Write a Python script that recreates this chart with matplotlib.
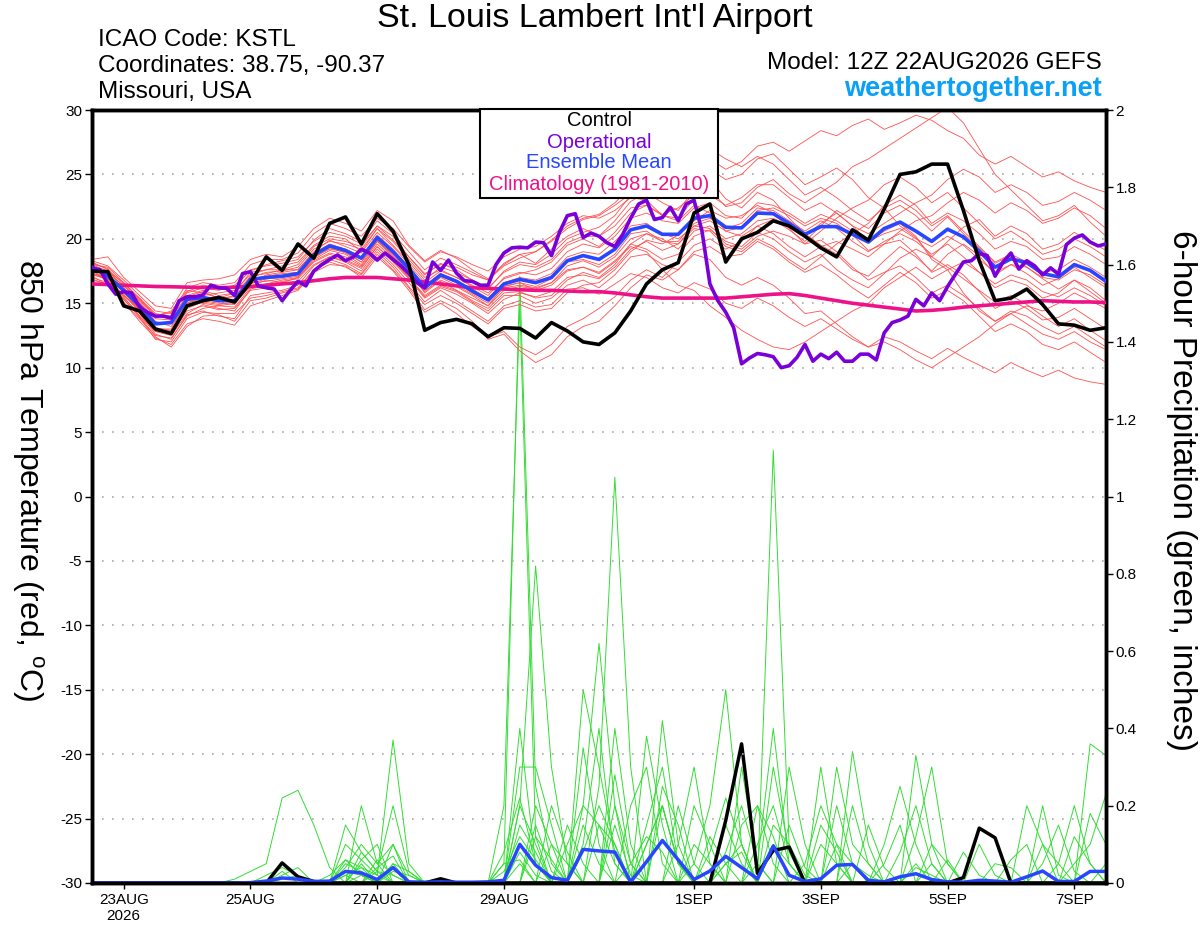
import numpy as np
import matplotlib
matplotlib.use('Agg')
import matplotlib.pyplot as plt
from matplotlib.patches import Rectangle

plt.rcParams['font.family'] = ['Liberation Sans', 'DejaVu Sans']
plt.rcParams['mathtext.fontset'] = 'custom'
plt.rcParams['mathtext.rm'] = 'Liberation Sans'

# ---------------- data ----------------
hours6 = np.arange(0, 385, 6)     # forecast hours, 6-hourly (ensemble)
hours3 = np.arange(0, 385, 3)     # forecast hours, 3-hourly (operational)

tick_days = [0.5, 2.5, 4.5, 6.5, 9.5, 11.5, 13.5, 15.5]
tick_labels = ['23AUG\n2026', '25AUG', '27AUG', '29AUG', '1SEP', '3SEP', '5SEP', '7SEP']

control = [17.5,17.45,14.8,14.4,13.0,12.65,14.8,15.2,15.45,15.1,16.6,
           18.6,17.55,19.6,18.5,21.2,21.7,19.6,21.95,20.6,18.0,
           12.9,13.5,13.75,13.4,12.4,13.1,13.05,12.3,13.5,12.85,
           12.0,11.8,12.7,14.4,16.5,17.6,18.15,22.0,22.7,18.2,
           20.0,20.5,21.4,21.0,20.2,19.3,18.6,20.7,19.9,22.3,
           25.0,25.2,25.8,25.8,22.2,18.3,15.2,15.4,16.1,14.9,
           13.4,13.3,12.9,13.1]

ens_mean = [17.8,17.1,16.0,14.8,13.4,13.5,15.3,15.45,15.2,15.2,16.85,
            17.0,17.1,17.3,18.75,19.45,19.1,18.5,20.1,19.0,17.7,
            16.2,17.2,16.7,15.95,15.25,16.5,16.85,16.6,17.0,18.3,
            18.7,18.4,19.2,20.7,21.0,20.35,20.35,21.6,21.8,20.9,
            20.85,22.0,21.95,21.2,20.35,20.95,20.95,20.35,19.75,20.8,
            21.3,20.6,19.8,20.75,20.15,19.05,17.8,18.45,18.15,17.3,
            17.05,18.0,17.55,16.7]

climatology = [16.5,16.45,16.4,16.35,16.3,16.28,16.25,16.22,16.2,16.25,16.3,
               16.4,16.5,16.6,16.75,16.9,17.0,17.0,17.0,16.9,16.8,
               16.65,16.5,16.35,16.2,16.15,16.1,16.05,16.0,16.0,15.95,
               15.9,15.9,15.8,15.65,15.5,15.4,15.4,15.4,15.4,15.4,
               15.5,15.6,15.7,15.75,15.6,15.4,15.2,15.0,14.85,14.7,
               14.55,14.4,14.45,14.55,14.7,14.8,14.9,15.0,15.1,15.2,
               15.15,15.1,15.1,15.05]

operational = [17.75,17.6,16.5,15.7,15.9,15.8,14.7,14.3,14.0,14.0,13.85,
               15.2,15.5,15.5,15.65,16.4,16.2,16.15,15.6,17.3,17.45,16.35,
               16.2,16.1,15.2,16.0,16.7,16.35,17.5,18.0,18.4,18.75,18.3,
               18.6,19.2,18.9,18.35,18.9,18.4,17.9,17.3,16.6,16.2,18.2,
               17.55,18.35,17.35,16.75,16.7,16.4,16.4,18.0,18.9,19.3,19.35,
               19.3,19.75,19.7,18.7,20.5,21.8,21.95,20.1,20.45,20.2,19.7,
               19.4,20.35,21.6,22.7,23.0,21.5,21.65,22.45,21.4,22.7,23.0,
               20.6,16.5,15.2,14.3,13.1,10.3,10.75,11.1,11.0,10.85,10.0,
               10.15,10.8,11.8,10.5,11.05,10.7,11.2,10.5,10.5,11.05,11.05,
               10.6,12.7,13.5,13.7,14.0,15.3,14.8,15.8,15.2,16.3,17.25,
               18.2,18.3,18.85,18.7,17.1,18.2,18.9,17.65,18.3,17.9,17.2,
               17.75,17.25,19.55,20.05,20.3,19.75,19.45,19.6]

m01 = [18.2,17.6,16.5,15.2,14.0,14.3,15.8,16.2,16.0,16.4,17.5, 18.0,18.3,18.6,19.8,20.5,20.2,19.6,21.0,20.2,18.6,
       17.3,18.0,17.8,17.2,16.8,17.9,18.5,19.0,19.8,20.8, 21.5,21.8,22.6,23.5,24.3,24.0,24.8,25.5,26.2,25.4,
       26.0,27.2,27.5,26.8,27.6,28.4,28.0,28.8,29.3,28.5, 29.0,29.6,29.2,28.4,27.8,26.5,25.8,26.4,25.6,24.8, 25.2,24.5,24.0,23.6]
m02 = [17.0,16.6,15.4,14.2,12.6,12.2,14.1,14.4,14.0,13.8,15.6, 15.8,16.0,16.4,17.9,18.6,18.2,17.5,19.2,18.0,16.6,
       15.1,16.0,15.2,14.4,13.6,14.8,15.2,14.7,14.9,16.1, 16.2,15.7,16.5,17.3,17.0,16.2,15.8,16.6,16.1,15.0,
       14.6,15.4,14.8,13.9,13.2,13.8,13.0,12.2,11.6,12.4, 12.0,11.3,10.7,11.5,10.8,10.2,9.6,10.4,9.8,9.3, 9.8,9.2,8.9,8.7]
m03 = [18.4,18.6,17.0,15.9,14.8,14.6,16.6,16.8,16.9,17.2,18.4, 18.8,18.6,19.4,20.8,21.6,21.2,20.6,22.2,21.4,19.5,
       18.3,19.1,18.5,17.6,16.9,18.0,18.8,18.1,19.2,20.2, 20.8,20.2,21.4,22.9,23.6,22.8,22.2,23.8,24.6,23.1,
       22.4,23.6,23.0,21.6,20.4,19.5,18.8,17.6,17.1,18.3, 19.4,18.6,17.5,18.8,19.6,18.7,17.2,18.0,17.3,16.4, 16.9,17.8,17.0,16.2]
m04 = [17.4,16.8,15.1,13.6,12.3,11.8,13.4,13.8,13.6,13.3,14.8, 15.2,15.6,16.0,17.4,18.0,17.9,17.0,18.6,17.5,16.0,
       14.3,15.0,14.2,13.2,12.4,12.8,11.6,11.0,11.8,13.2, 13.8,14.6,15.5,16.8,17.6,17.0,18.2,19.5,20.0,19.2,
       19.8,21.0,21.5,20.7,19.8,21.0,22.2,21.5,20.8,22.0, 22.6,21.8,20.6,21.7,20.4,19.3,18.1,18.7,17.8,16.9, 16.1,16.8,15.9,15.0]
m05 = [17.8,17.2,16.2,15.0,13.6,13.2,15.0,15.6,15.8,16.0,17.2, 17.6,17.9,18.2,19.5,20.2,20.0,19.0,20.8,19.5,18.2,
       16.8,17.8,17.4,16.8,16.1,17.5,18.2,18.0,18.8,20.0, 20.5,20.9,21.8,23.4,24.0,23.2,23.6,24.8,25.4,24.6,
       25.0,26.2,26.6,25.4,24.2,24.8,25.5,24.6,23.2,22.4, 21.0,20.1,18.6,17.8,16.9,16.0,15.1,15.6,14.9,14.0, 13.2,13.8,12.9,12.1]
m06 = [17.6,17.4,15.8,14.6,13.0,13.0,15.2,15.0,14.8,15.0,16.3, 16.8,16.6,17.0,18.4,19.1,18.8,18.0,19.8,18.6,17.2,
       16.0,16.7,16.0,15.4,14.8,16.0,16.3,16.1,16.6,17.6, 17.8,17.3,18.2,19.6,19.2,18.4,18.8,20.2,20.7,19.8,
       19.4,20.5,20.0,19.0,18.2,18.8,17.6,16.8,16.2,17.3, 18.5,19.2,18.6,19.8,20.9,21.5,20.2,21.0,20.4,19.2, 19.6,20.5,19.8,19.1]
m07 = [18.0,17.8,16.6,15.3,14.1,13.9,15.6,16.0,15.6,15.8,17.0, 17.4,17.5,17.8,19.2,19.8,19.6,19.2,20.8,19.8,18.4,
       17.0,17.6,17.0,16.4,15.8,16.9,17.3,17.6,18.2,19.5, 20.0,19.4,20.5,22.0,22.6,21.8,21.6,23.1,23.8,22.5,
       22.8,24.0,24.6,23.5,22.8,23.6,24.4,25.6,26.2,27.0, 27.8,28.6,29.4,30.2,29.0,27.0,25.0,23.8,22.6,21.4, 21.8,22.6,21.3,20.2]
m08 = [17.2,16.9,15.6,14.5,13.1,12.9,14.7,15.2,15.0,14.9,16.5, 16.9,17.0,17.2,18.6,19.2,19.0,18.2,19.8,18.8,17.5,
       15.8,16.8,16.3,15.6,14.8,16.3,16.6,16.0,16.4,17.5, 17.8,17.4,18.3,19.4,19.0,17.6,16.4,16.0,14.8,13.9,
       12.9,12.2,11.6,11.4,12.0,12.8,13.6,14.4,15.0,16.2, 17.0,17.8,16.9,17.6,18.2,17.4,16.5,17.2,16.8,15.9, 15.5,16.2,15.6,14.8]
m09 = [17.9,17.3,16.4,15.1,13.8,13.7,15.5,15.9,15.4,15.5,17.1, 17.3,17.6,17.6,19.0,19.9,19.4,18.9,20.5,19.4,18.0,
       16.6,17.5,17.0,16.3,15.6,17.0,17.4,17.2,17.7,19.0, 19.6,19.3,20.2,21.6,22.0,21.4,21.2,22.4,22.8,21.8,
       21.6,22.8,22.6,22.0,21.2,21.9,21.4,20.6,19.8,20.4, 20.8,20.0,19.4,20.2,19.5,18.4,17.4,18.0,17.8,17.0, 16.8,17.6,17.2,16.4]
m10 = [17.5,16.9,15.9,14.4,12.9,12.6,14.4,14.8,14.5,14.6,16.0, 16.2,16.5,16.7,18.0,18.6,18.3,17.7,19.4,18.2,16.9,
       15.4,16.2,15.7,15.0,14.2,15.3,15.8,15.5,15.9,17.0, 17.2,16.9,17.8,19.2,19.8,19.1,19.6,21.0,21.4,20.6,
       20.9,22.2,22.4,21.8,21.0,21.6,21.2,20.3,19.1,19.6, 19.9,18.8,17.4,18.0,17.2,15.9,14.6,15.2,14.6,13.7, 13.9,14.6,13.8,13.0]
m11 = [18.3,17.9,16.8,15.6,14.4,14.2,16.2,16.6,16.4,16.6,18.0, 18.4,18.4,18.9,20.4,21.2,20.8,20.2,21.6,20.8,19.4,
       18.2,19.0,18.6,18.0,17.5,18.6,19.2,19.4,20.2,21.2, 21.8,21.6,22.2,23.2,23.0,21.8,21.4,22.6,22.0,20.6,
       20.2,21.0,20.4,19.4,18.6,19.4,19.8,19.2,18.6,19.6, 20.6,21.4,21.8,22.8,23.6,23.0,22.0,22.8,22.2,21.2, 21.6,22.4,21.8,20.8]
m12 = [17.1,16.4,15.3,13.9,12.2,12.0,13.8,14.3,14.2,14.2,15.4, 15.6,15.9,16.2,17.6,18.4,18.0,17.3,19.0,17.8,16.3,
       14.9,15.6,15.0,14.2,13.4,14.6,14.9,14.4,14.6,15.8, 16.4,16.6,17.6,19.0,19.9,19.6,20.3,21.4,22.2,21.6,
       21.8,22.6,22.0,20.8,19.6,19.9,19.0,17.8,16.8,17.4, 17.9,17.0,15.8,16.4,15.6,14.6,13.6,14.2,13.4,12.6, 12.2,12.8,12.0,11.4]
m13 = [17.7,17.5,16.3,15.4,14.2,14.0,15.9,16.4,16.2,16.2,17.6, 17.9,18.1,18.4,19.9,20.8,20.4,19.8,21.4,20.4,19.0,
       17.6,18.5,18.0,17.4,16.8,18.1,18.8,19.0,19.9,21.0, 21.6,21.9,22.8,24.0,24.8,24.4,25.2,26.4,27.0,26.2,
       25.6,26.4,25.8,24.6,23.4,24.0,23.2,22.2,21.4,22.4, 23.0,22.2,21.0,21.8,20.6,19.4,18.2,18.8,18.2,17.4, 17.6,18.4,17.8,17.0]
m14 = [16.8,16.5,15.0,13.8,12.5,12.3,14.0,14.6,14.8,14.7,16.2, 16.5,16.8,17.0,18.3,18.9,18.6,17.9,19.6,18.5,17.0,
       15.6,16.4,16.0,15.2,14.6,15.8,15.9,15.4,15.6,16.8, 17.4,17.0,18.0,19.6,20.4,20.0,19.2,20.6,21.0,20.0,
       20.4,21.4,21.6,21.0,20.2,21.2,22.0,21.0,19.8,20.6, 21.2,20.2,18.4,17.6,15.8,14.4,13.6,14.4,14.0,13.2, 12.6,13.2,12.4,11.6]
m15 = [18.1,17.7,16.0,14.9,13.5,13.4,15.4,15.3,15.1,15.3,16.9, 17.1,17.3,17.4,18.9,19.6,19.2,18.6,20.3,19.2,17.8,
       16.4,17.3,16.8,16.1,15.4,16.6,17.0,16.8,17.3,18.6, 19.0,18.8,19.8,21.0,21.2,20.4,20.0,21.0,20.8,19.6,
       19.2,20.2,20.6,20.2,19.6,20.6,21.6,22.4,23.0,24.2, 24.8,24.0,22.8,23.6,22.4,21.2,20.0,20.6,19.8,18.8, 19.2,20.0,19.4,18.6]
m16 = [17.3,17.0,15.5,14.0,12.8,12.5,14.2,14.9,14.6,14.4,16.1, 16.4,16.7,16.9,18.2,18.8,18.4,17.8,19.4,18.3,17.0,
       15.5,16.3,15.9,15.1,14.4,15.6,15.6,15.0,15.4,16.4, 16.8,16.2,17.2,18.6,18.8,18.0,17.6,18.8,18.4,17.0,
       16.4,17.0,16.4,15.4,14.2,14.4,13.4,12.4,11.6,12.0, 11.4,10.6,10.0,10.8,11.6,12.4,13.4,14.2,14.8,14.4, 15.0,15.8,15.2,14.6]
m17 = [18.0,17.5,16.6,15.4,14.0,14.4,16.0,15.8,15.4,15.8,17.4, 17.6,17.6,18.0,19.4,20.0,19.8,19.4,21.0,19.9,18.6,
       17.2,18.1,17.6,16.8,16.2,17.4,18.0,17.8,18.4,19.7, 20.2,20.2,21.0,22.4,22.6,21.9,22.4,23.4,23.4,22.6,
       23.2,24.2,24.2,23.2,22.2,22.8,22.0,21.0,20.4,21.2, 22.0,22.8,23.4,24.6,25.4,24.8,23.6,24.2,23.6,22.6, 22.9,23.6,23.0,22.2]
m18 = [17.6,16.7,15.7,14.3,12.8,12.9,14.6,15.1,14.9,15.1,16.6, 16.7,16.9,17.1,18.5,19.3,18.9,18.2,19.9,18.7,17.4,
       15.9,17.0,16.4,15.7,15.0,16.2,16.4,16.2,16.6,17.9, 18.3,17.8,18.6,20.0,20.4,19.8,19.8,21.2,21.6,20.8,
       21.2,22.4,22.2,21.4,20.6,21.4,20.8,19.8,19.0,19.8, 20.4,19.8,18.8,19.6,18.6,17.4,16.2,16.8,16.4,15.4, 15.8,16.8,16.2,15.2]
m19 = [16.9,16.4,15.6,14.6,13.4,13.6,15.0,15.4,15.3,15.6,16.6, 17.2,17.4,17.6,18.9,19.4,19.0,18.4,20.0,18.9,17.6,
       16.1,17.1,16.6,15.8,15.2,16.3,16.6,16.3,16.9,18.2, 18.4,18.0,18.8,20.4,20.6,19.8,19.6,20.8,20.6,19.4,
       19.0,20.0,19.4,18.4,17.6,18.6,19.6,20.4,21.2,22.6, 23.4,22.6,21.2,22.0,21.4,20.4,19.2,19.8,19.4,18.4, 18.6,19.4,18.8,18.0]
m20 = [17.3,16.8,15.3,14.0,12.4,11.6,13.2,14.0,14.1,13.6,15.2, 15.4,15.8,16.1,17.6,18.2,17.8,17.2,18.8,17.6,16.2,
       14.5,15.2,14.6,13.6,12.2,12.6,11.3,10.4,11.0,12.4, 13.2,13.6,14.8,16.2,17.2,16.8,17.6,19.0,19.4,18.6,
       18.8,19.8,19.2,18.2,17.4,18.0,17.2,16.2,15.4,16.4, 17.4,16.6,15.4,16.0,15.2,14.0,12.8,13.4,12.8,11.8, 11.4,12.0,11.2,10.4]
members = [m01, m02, m03, m04, m05, m06, m07, m08, m09, m10,
           m11, m12, m13, m14, m15, m16, m17, m18, m19, m20]

# 6-hour precipitation (inches)
control_pcp = [0,0,0,0,0,0,0,0,0,0,0, 0,0.052,0.016,0.004,0,0,0,0,0,0,
               0,0.011,0,0,0,0,0,0,0,0, 0,0,0,0,0,0,0,0,0,0.162,
               0.36,0.025,0.084,0.093,0,0,0,0,0,0, 0,0,0,0,0.014,0.142,0.117,0,0,0, 0,0,0,0]
mean_pcp = [0,0,0,0,0,0,0,0,0,0,0.001, 0.005,0.013,0.010,0.004,0.005,0.030,0.026,0.009,0.040,0.003,
            0.002,0.003,0.002,0.002,0.003,0.007,0.100,0.046,0.014,0.007,
            0.087,0.083,0.080,0.003,0.055,0.110,0.060,0.009,0.031,0.069,
            0.040,0.011,0.096,0.020,0.004,0.011,0.046,0.048,0.007,0.003,
            0.016,0.024,0.009,0.003,0.002,0.007,0.005,0.002,0.016,0.031, 0.004,0.004,0.030,0.030]

# member precipitation: {6-hour step index: inches}, zero elsewhere
g01 = {9:0.01,10:0.03,11:0.05,12:0.22,13:0.24,14:0.15,15:0.04,26:0.05,27:1.57,28:0.25,29:0.05,35:0.1,36:0.2,37:0.05,43:0.1,44:0.05,52:0.05}
g02 = {11:0.02,12:0.04,13:0.02,16:0.10,17:0.06,18:0.02,19:0.37,20:0.05,27:0.2,28:0.82,29:0.3,30:0.05,33:0.15,34:0.02,40:0.05,41:0.1}
g03 = {16:0.15,17:0.08,18:0.03,19:0.2,20:0.03,26:0.2,27:1.50,28:0.12,31:0.5,32:0.3,33:0.08,43:1.12,44:0.1,48:0.05,49:0.02}
g04 = {15:0.02,16:0.06,17:0.04,19:0.1,20:0.02,30:0.1,31:0.2,32:0.62,33:0.2,38:0.05,39:0.2,40:0.5,41:0.1,46:0.3,47:0.05}
g05 = {16:0.04,17:0.10,18:0.05,27:0.3,28:0.3,29:0.15,32:0.25,33:1.05,34:0.3,37:0.1,38:0.3,39:0.05,48:0.34,49:0.1}
g06 = {12:0.02,13:0.04,17:0.2,18:0.05,19:0.1,28:0.12,29:0.06,31:0.35,32:0.1,35:0.38,36:0.15,42:0.2,43:0.12,52:0.33,53:0.1,63:0.36,64:0.33}
g07 = {16:0.05,17:0.03,19:0.05,26:0.08,27:0.22,28:0.05,33:0.4,34:0.1,36:0.42,37:0.1,40:0.15,41:0.05,47:0.3,48:0.1,49:0.05,59:0.2,60:0.1}
g08 = {18:0.04,19:0.07,27:0.15,28:0.08,31:0.2,32:0.15,33:0.05,39:0.08,40:0.22,41:0.1,44:0.3,45:0.1,52:0.12,53:0.3,54:0.05,60:0.2,61:0.02}
g09 = {16:0.03,17:0.02,29:0.1,30:0.05,34:0.2,35:0.3,36:0.05,41:0.15,42:0.2,43:0.05,50:0.1,51:0.25,52:0.1,62:0.05,63:0.1,64:0.23}
g10 = {19:0.03,20:0.02,27:0.4,28:0.05,36:0.25,37:0.15,43:0.3,44:0.08,46:0.1,47:0.05,56:0.1,57:0.02}
g11 = {16:0.02,17:0.04,18:0.02,31:0.15,32:0.05,38:0.1,39:0.05,45:0.05,46:0.2,47:0.1,53:0.05,60:0.05,61:0.15,62:0.03}
g12 = {17:0.05,19:0.04,27:0.08,28:0.02,33:0.28,34:0.05,40:0.08,41:0.2,42:0.05,49:0.15,50:0.04,57:0.05,58:0.04}
g13 = {12:0.01,13:0.02,17:0.06,18:0.1,26:0.05,27:0.06,30:0.15,31:0.05,35:0.15,36:0.3,37:0.05,42:0.05,43:0.4,44:0.05}
g14 = {18:0.03,19:0.02,28:0.2,29:0.1,32:0.15,33:0.1,39:0.12,40:0.05,47:0.2,48:0.05,55:0.08,56:0.02,62:0.12,63:0.05}
g15 = {16:0.02,27:0.05,31:0.1,32:0.4,33:0.05,37:0.2,38:0.05,44:0.15,45:0.04,51:0.08,52:0.2,53:0.05,64:0.05}
g16 = {17:0.02,26:0.03,27:0.12,28:0.06,34:0.05,35:0.12,36:0.08,41:0.3,42:0.05,48:0.2,49:0.05,58:0.06,59:0.1}
g17 = {19:0.05,20:0.03,29:0.2,30:0.08,36:0.2,37:0.05,43:0.15,44:0.1,45:0.02,50:0.05,51:0.15,61:0.05,62:0.2,63:0.05}
g18 = {16:0.06,17:0.02,27:0.2,28:0.1,33:0.2,34:0.05,38:0.2,39:0.1,46:0.15,47:0.08,54:0.06,63:0.18,64:0.1}
g19 = {12:0.03,18:0.06,19:0.02,31:0.08,32:0.2,33:0.1,40:0.05,41:0.08,47:0.1,48:0.05,53:0.1,54:0.05}
g20 = {17:0.08,18:0.03,28:0.15,29:0.03,35:0.1,36:0.2,37:0.05,42:0.1,43:0.2,44:0.05,52:0.04,53:0.02,60:0.1,61:0.05}
member_pcp = [g01, g02, g03, g04, g05, g06, g07, g08, g09, g10,
              g11, g12, g13, g14, g15, g16, g17, g18, g19, g20]

temp_ticks = list(range(-30, 31, 5))
pcp_ticks = [0, 0.2, 0.4, 0.6, 0.8, 1, 1.2, 1.4, 1.6, 1.8, 2]
pcp_tick_labels = ['0', '0.2', '0.4', '0.6', '0.8', '1', '1.2', '1.4', '1.6', '1.8', '2']

# ---------------- colours ----------------
C_RED = '#FF5050'
C_GREEN = '#33DD33'
C_CTRL = '#000000'
C_OP = '#7A00DA'
C_MEAN = '#2846FF'
C_CLIM = '#EE1289'
C_WEB = '#0AA0F5'

# ---------------- figure ----------------
W, H = 1200, 927
fig = plt.figure(figsize=(W / 100, H / 100), dpi=100)
ax = fig.add_axes([92 / W, 44 / H, 1014 / W, 773 / H])
ax2 = ax.twinx()
ax.set_zorder(ax2.get_zorder() + 1)
ax.patch.set_visible(False)

d6 = hours6 / 24.0
d3 = hours3 / 24.0

# precipitation (right axis)
for g in member_pcp:
    vals = np.zeros(len(hours6))
    for k, v in g.items():
        vals[k] = v
    ax2.plot(d6, vals, color=C_GREEN, lw=0.7, zorder=2)
ax2.plot(d6, control_pcp, color=C_CTRL, lw=2.5, zorder=4)
ax2.plot(d6, mean_pcp, color=C_MEAN, lw=2.5, zorder=5)

# temperature (left axis)
for m in members:
    ax.plot(d6, m, color=C_RED, lw=0.6, zorder=2)
ax.plot(d6, climatology, color=C_CLIM, lw=2.6, zorder=4)
ax.plot(d6, ens_mean, color=C_MEAN, lw=2.6, zorder=5)
ax.plot(d3, operational, color=C_OP, lw=2.6, zorder=6)
ax.plot(d6, control, color=C_CTRL, lw=2.6, zorder=7)

ax.set_xlim(0, 16)
ax.set_ylim(-30, 30)
ax2.set_ylim(0, 2)

ax.set_yticks(temp_ticks)
ax.set_yticklabels([str(t) for t in temp_ticks])
ax2.set_yticks(pcp_ticks)
ax2.set_yticklabels(pcp_tick_labels)
ax.set_xticks(tick_days)
ax.set_xticklabels(tick_labels)

ax.grid(axis='y', color='#AAAAAA', linestyle=(0, (1, 5)), lw=1.2, zorder=0)
ax.set_axisbelow(True)

ax.tick_params(axis='y', direction='out', length=5, width=1, labelsize=11, pad=2)
ax.tick_params(axis='x', direction='out', length=4, width=1, labelsize=11, pad=3)
ax2.tick_params(axis='y', direction='out', length=5, width=1, labelsize=11, pad=2)
for a in (ax, ax2):
    for s in a.spines.values():
        s.set_linewidth(2.5)

# ---------------- texts ----------------
def fx(px):
    return px / W

def fy(py):
    return 1 - py / H

fig.text(fx(595), fy(18), "St. Louis Lambert Int'l Airport", ha='center', va='center', fontsize=24.5)
fig.text(fx(98), fy(40), 'ICAO Code: KSTL', ha='left', va='center', fontsize=17.5)
fig.text(fx(98), fy(66), 'Coordinates: 38.75, -90.37', ha='left', va='center', fontsize=17.5)
fig.text(fx(98), fy(92), 'Missouri, USA', ha='left', va='center', fontsize=17.5)
fig.text(fx(1102), fy(63), 'Model: 12Z 22AUG2026 GEFS', ha='right', va='center', fontsize=17.5)
fig.text(fx(1102), fy(89), 'weathertogether.net', ha='right', va='center', fontsize=19.5,
         fontweight='bold', color=C_WEB)

fig.text(fx(28), fy(480), r'850 hPa Temperature (red, $^{\mathrm{o}}$C)', rotation=270,
         ha='center', va='center', fontsize=23)
fig.text(fx(1182), fy(490), '6-hour Precipitation (green, inches)', rotation=270,
         ha='center', va='center', fontsize=24)

# legend box
fig.add_artist(Rectangle((fx(480), fy(198)), 238 / W, 89 / H, transform=fig.transFigure,
                         facecolor='white', edgecolor='black', lw=1.5, zorder=10))
for txt, col, py in [('Control', C_CTRL, 121), ('Operational', C_OP, 142),
                     ('Ensemble Mean', C_MEAN, 163), ('Climatology (1981-2010)', C_CLIM, 185)]:
    fig.text(fx(599), fy(py), txt, ha='center', va='center', fontsize=14.5, color=col, zorder=11)

fig.savefig('out.png', dpi=100)
